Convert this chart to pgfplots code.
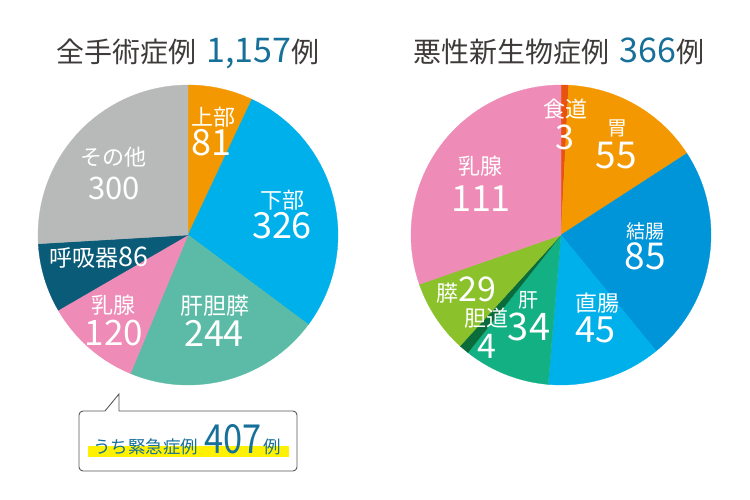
\documentclass[border=0pt]{standalone}
\usepackage{pgfplots}
\pgfplotsset{compat=1.18}
\usepackage{pgfplotstable}
\usepackage{graphicx}
\usepackage{fontspec}
\setmainfont{Noto Sans CJK JP}

\definecolor{cOrange}{HTML}{F39800}
\definecolor{cLBlue}{HTML}{00B0EA}
\definecolor{cTeal}{HTML}{5CBBA6}
\definecolor{cPink}{HTML}{EE8BB6}
\definecolor{cNavy}{HTML}{0A5B77}
\definecolor{cGray}{HTML}{B8B9B9}
\definecolor{cRed}{HTML}{E8540F}
\definecolor{cBlue}{HTML}{0094D9}
\definecolor{cGreen}{HTML}{13B084}
\definecolor{cDkGreen}{HTML}{0A6B3B}
\definecolor{cLime}{HTML}{8BC12A}
\definecolor{titlegray}{HTML}{3E3A39}
\definecolor{numblue}{HTML}{17709A}
\definecolor{hlyellow}{HTML}{FFF100}
\definecolor{boxgray}{HTML}{595757}

% 全手術症例 (clockwise from top)
\pgfplotstableread{
value color
81  cOrange
326 cLBlue
244 cTeal
120 cPink
86  cNavy
300 cGray
}\allcases

% 悪性新生物症例 (clockwise from top)
\pgfplotstableread{
value color
3   cRed
55  cOrange
85  cBlue
45  cLBlue
34  cGreen
4   cDkGreen
29  cLime
111 cPink
}\malignant

\newcommand{\drawpie}[4]{%
  \pgfplotstablegetrowsof{#1}%
  \pgfmathtruncatemacro\pienrows{\pgfplotsretval-1}%
  \def\piecum{0}%
  \def\pietotal{0}%
  \pgfplotsforeachungrouped \i in {0,...,\pienrows}{%
    \pgfplotstablegetelem{\i}{value}\of{#1}%
    \pgfmathsetmacro\pietotal{\pietotal+\pgfplotsretval}%
  }%
  \pgfplotsforeachungrouped \i in {0,...,\pienrows}{%
    \pgfplotstablegetelem{\i}{value}\of{#1}\let\pieval\pgfplotsretval
    \pgfplotstablegetelem{\i}{color}\of{#1}\let\piecol\pgfplotsretval
    \pgfmathsetmacro\piea{90-360*(\piecum/\pietotal)}%
    \pgfmathsetmacro\piecum{\piecum+\pieval}%
    \pgfmathsetmacro\pieb{90-360*(\piecum/\pietotal)}%
    \edef\pietmp{\noexpand\path[fill=\piecol,draw=\piecol,line width=0.3bp] (axis cs:#2,#3) -- ++(\piea:#4bp) arc[start angle=\piea, end angle=\pieb, radius=#4bp] -- cycle;}%
    \pietmp
  }%
}

\newcommand{\fs}[1]{\fontsize{#1bp}{#1bp}\selectfont}

\begin{document}
\begin{tikzpicture}
\begin{axis}[
  x=1bp, y=1bp,
  xmin=0, xmax=750, ymin=0, ymax=500,
  hide axis, clip=false,
]
\drawpie{\allcases}{188}{265}{150}
\drawpie{\malignant}{561}{265}{150}

% titles
\node[anchor=base, text=titlegray, inner sep=0] at (axis cs:188,437)
  {\fs{28}全手術症例\hspace{10bp}{\color{numblue}\fs{34}1,157}例};
\node[anchor=base, text=titlegray, inner sep=0] at (axis cs:559,437)
  {\fs{28}悪性新生物症例\hspace{10bp}{\color{numblue}\fs{34}366}例};

% left pie labels
\begin{scope}[every node/.style={text=white, inner sep=0}]
\node at (axis cs:213,383) {\fs{22}上部};
\node at (axis cs:211,357) {\fs{36}81};
\node at (axis cs:282,300) {\fs{22}下部};
\node at (axis cs:282,274) {\fs{36}326};
\node at (axis cs:215,194) {\fs{23}肝胆膵};
\node at (axis cs:214,167) {\fs{36}244};
\node at (axis cs:113,195) {\fs{22}乳腺};
\node at (axis cs:114,167) {\fs{35}120};
\node[anchor=base] at (axis cs:99,234) {\fs{23}呼吸器\fs{27}86};
\node at (axis cs:113,343) {\fs{22}その他};
\node at (axis cs:114,312) {\fs{31}300};
% right pie labels
\node at (axis cs:565,391) {\fs{22}食道};
\node at (axis cs:565,363) {\fs{34}3};
\node at (axis cs:617,372) {\fs{20}胃};
\node at (axis cs:616,344) {\fs{37}55};
\node at (axis cs:645,269) {\fs{19}結腸};
\node at (axis cs:645,244) {\fs{37}85};
\node at (axis cs:597,197) {\fs{22}直腸};
\node at (axis cs:595,170) {\fs{36}45};
\node at (axis cs:528,200) {\fs{20}肝};
\node at (axis cs:529,173) {\fs{38}34};
\node at (axis cs:486,182) {\fs{22}胆道};
\node at (axis cs:487,154) {\fs{34}4};
\node[anchor=base] at (axis cs:466,199) {\fs{22}膵\fs{34}29};
\node at (axis cs:480,334) {\fs{22}乳腺};
\node at (axis cs:481,301) {\fs{36}111};
\end{scope}

% callout box
\draw[draw=boxgray, line width=0.9bp, fill=white]
  (axis cs:105,89) [rounded corners=4bp] -- (axis cs:79,89) -- (axis cs:79,29)
  -- (axis cs:297,29) -- (axis cs:297,89) [sharp corners] -- (axis cs:119,89)
  -- (axis cs:119,106) -- cycle;
\fill[hlyellow] (axis cs:88,43) rectangle (axis cs:289,54);
\node[anchor=base west, inner sep=0, text=numblue] at (axis cs:93,47)
  {\fs{17.5}うち緊急症例\hspace{6bp}\scalebox{0.86}[1]{\fs{40}407}\hspace{2bp}\fs{17.5}例};
\end{axis}
\pgfresetboundingbox
\path (0,0) rectangle (750bp,500bp);
\end{tikzpicture}
\end{document}
